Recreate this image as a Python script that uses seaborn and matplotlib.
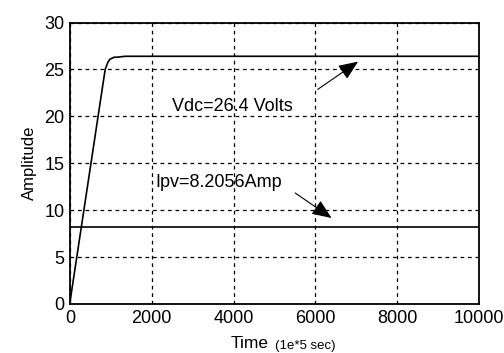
import matplotlib
matplotlib.use("Agg")
import matplotlib.pyplot as plt
import seaborn as sns
import pandas as pd

# DC-link voltage response (time in units of 1e-5 s)
vdc_time = [0, 20, 860, 930, 980, 1030, 1080, 1150, 1250, 1350, 10000]
vdc_value = [0, 0.8, 25.0, 25.8, 26.1, 26.2, 26.3, 26.3, 26.35, 26.4, 26.4]

# PV current (constant)
ipv_time = [0, 10000]
ipv_value = [8.2056, 8.2056]

vdc_label = "Vdc=26.4 Volts"
ipv_label = "Ipv=8.2056Amp"

x_ticks = [0, 2000, 4000, 6000, 8000, 10000]
y_ticks = [0, 5, 10, 15, 20, 25, 30]

sns.set_style("white")
plt.rcParams["font.family"] = ["Liberation Sans", "DejaVu Sans"]
plt.rcParams["text.color"] = "black"
plt.rcParams["axes.labelcolor"] = "black"

fig = plt.figure(figsize=(5.04, 3.53), dpi=100)
ax = fig.add_axes([70 / 504, 1 - 304 / 353, 409 / 504, 281.5 / 353])

df_v = pd.DataFrame({"t": vdc_time, "v": vdc_value})
df_i = pd.DataFrame({"t": ipv_time, "v": ipv_value})
sns.lineplot(data=df_v, x="t", y="v", ax=ax, color="black", lw=1.2, estimator=None, sort=False)
sns.lineplot(data=df_i, x="t", y="v", ax=ax, color="black", lw=1.2, estimator=None, sort=False)

ax.set_xlim(0, 10000)
ax.set_ylim(0, 30)
ax.set_xticks(x_ticks)
ax.set_yticks(y_ticks)
ax.set_xticklabels([str(t) for t in x_ticks])
ax.set_yticklabels([str(t) for t in y_ticks])
ax.tick_params(axis="both", labelsize=13, length=0, pad=4, colors="black")

ax.grid(True, color="black", linestyle=(0, (3, 3)), linewidth=0.9)
for s in ax.spines.values():
    s.set_visible(True)
    s.set_color("black")
    s.set_linewidth(1.3)

ax.set_xlabel("")
ax.set_ylabel("Amplitude", fontsize=12, color="black", labelpad=5)
fig.text(231 / 504, 1 - 343 / 353, "Time", fontsize=12.5, va="center", ha="left")
fig.text(275 / 504, 1 - 346 / 353, "(1e*5 sec)", fontsize=9.5, va="center", ha="left")

arrow_kw = dict(arrowstyle="-|>,head_length=1.2,head_width=0.5", color="black", lw=0.8)
ax.text(2500, 21.1, vdc_label, fontsize=13, va="center", ha="left")
ax.annotate("", xy=(7100, 26.0), xytext=(6000, 22.7), arrowprops=arrow_kw)

ax.text(2080, 13.0, ipv_label, fontsize=13, va="center", ha="left")
ax.annotate("", xy=(6450, 9.0), xytext=(5450, 12.0), arrowprops=arrow_kw)

fig.savefig("out.png", dpi=100)
